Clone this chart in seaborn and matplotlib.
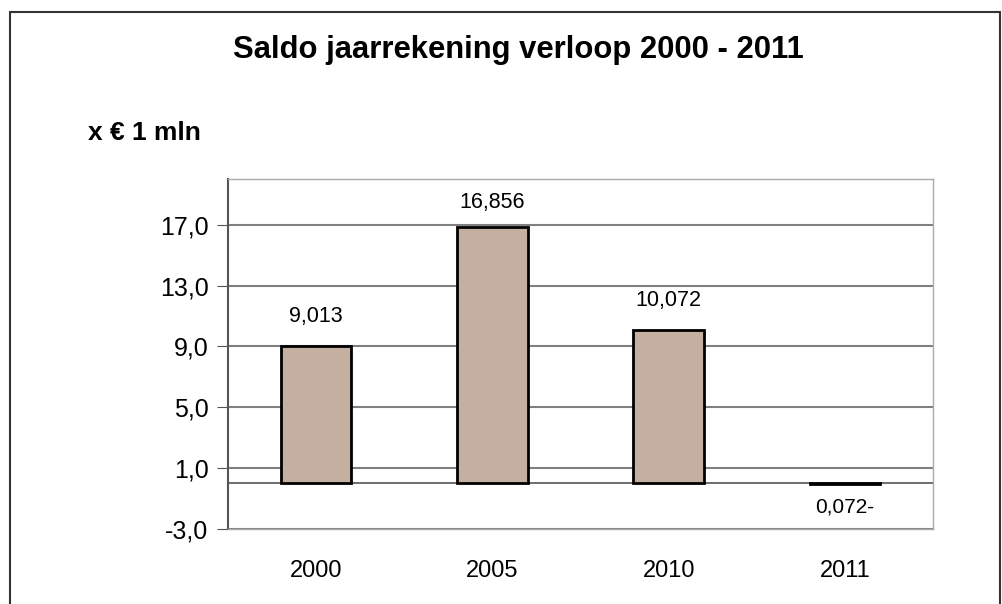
import matplotlib
matplotlib.use("Agg")
import matplotlib.pyplot as plt
import seaborn as sns
import pandas as pd
from matplotlib.patches import Rectangle

years = ["2000", "2005", "2010", "2011"]
saldo = [9.013, 16.856, 10.072, -0.072]
labels = ["9,013", "16,856", "10,072", "0,072-"]
yticks = [-3, 1, 5, 9, 13, 17]

df = pd.DataFrame({"jaar": years, "saldo": saldo})

sns.set_style("white")
plt.rcParams["font.family"] = ["Liberation Sans", "DejaVu Sans"]
plt.rcParams["text.color"] = "black"
plt.rcParams["xtick.color"] = "black"
plt.rcParams["ytick.color"] = "black"

fig = plt.figure(figsize=(10.02, 6.04), dpi=100)
ax = fig.add_axes([228 / 1002, 1 - 529 / 604, 705 / 1002, 350 / 604])

sns.barplot(data=df, x="jaar", y="saldo", color="#C4AFA0", saturation=1,
            width=0.4, edgecolor="black", linewidth=2, ax=ax, zorder=3)

ax.set_ylim(-3, 20)
ax.set_yticks(yticks)
ax.set_yticklabels([f"{t},0" for t in yticks], fontsize=18)
ax.tick_params(axis="x", labelsize=17, length=0, pad=22)
ax.tick_params(axis="y", length=8, color="#555555", direction="out", left=True, pad=6)
ax.set_xlabel("")
ax.set_ylabel("")
for t in yticks:
    ax.axhline(t, color="#808080", linewidth=1.5, zorder=1)
ax.axhline(0, color="#555555", linewidth=1.2, zorder=2)

for sp in ["top", "right", "bottom"]:
    ax.spines[sp].set_color("#aaaaaa")
    ax.spines[sp].set_linewidth(1)
ax.spines["left"].set_color("#555555")
ax.spines["left"].set_linewidth(1.5)

for i, (v, lab) in enumerate(zip(saldo, labels)):
    if v >= 0:
        ax.text(i, min(v + 1.95, 18.45), lab, ha="center", va="center", fontsize=15.5)
    else:
        ax.text(i, v - 1.45, lab, ha="center", va="center", fontsize=15)

fig.text(518 / 1002, 1 - 50 / 604, "Saldo jaarrekening verloop 2000 - 2011",
         ha="center", va="center", fontsize=22.3, fontweight="bold")
fig.text(88 / 1002, 1 - 133 / 604, "x € 1 mln", ha="left", va="center",
         fontsize=19, fontweight="bold")

fig.patches.append(Rectangle((10 / 1002, -0.01), 990 / 1002, 1 - 12 / 604 + 0.01,
                             transform=fig.transFigure, fill=False,
                             edgecolor="#333333", linewidth=1.5))

fig.savefig("out.png", dpi=100)
